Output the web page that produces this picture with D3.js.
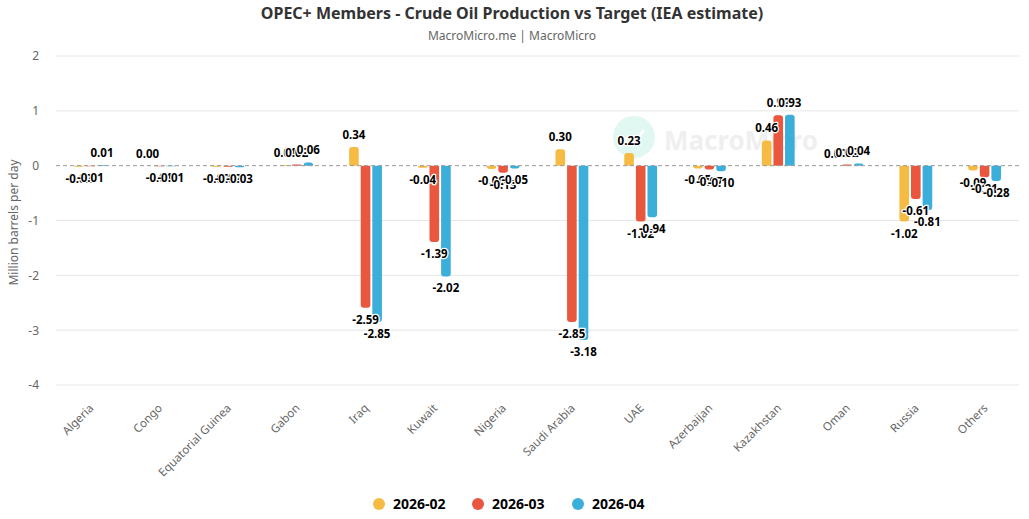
<!DOCTYPE html>
<html>
<head>
<meta charset="utf-8">
<script src="https://cdn.jsdelivr.net/npm/d3@7"></script>
<style>
  body { margin: 0; background: #fff; }
  svg { font-family: "Noto Sans", "Open Sans", sans-serif; }
</style>
</head>
<body>
<svg id="chart" width="1029" height="519"></svg>
<script>
// Chart data
const countries = ['Algeria', 'Congo', 'Equatorial Guinea', 'Gabon', 'Iraq', 'Kuwait', 'Nigeria',
  'Saudi Arabia', 'UAE', 'Azerbaijan', 'Kazakhstan', 'Oman', 'Russia', 'Others'];
const seriesNames = ['2026-02', '2026-03', '2026-04'];
const feb = [-0.02, 0.00, -0.02, 0.01, 0.34, -0.04, -0.06, 0.30, 0.23, -0.05, 0.46, 0.00, -1.02, -0.09];
const mar = [-0.01, -0.01, -0.02, 0.02, -2.59, -1.39, -0.13, -2.85, -1.02, -0.07, 0.92, 0.02, -0.61, -0.21];
const apr = [0.01, -0.01, -0.03, 0.06, -2.85, -2.02, -0.05, -3.18, -0.94, -0.10, 0.93, 0.04, -0.81, -0.28];
const yTicks = [2, 1, 0, -1, -2, -3, -4];
const colors = ['#F6BB43', '#E9573F', '#3BAFDA'];

const svg = d3.select('#chart');
const margin = {left: 56, right: 10, top: 56, bottom: 134};
const W = 1029, H = 519;

const x = d3.scaleBand().domain(countries).range([margin.left, W - margin.right]);
const y = d3.scaleLinear().domain([-4, 2]).range([H - margin.bottom, margin.top]);
const xs = d3.scaleBand().domain(seriesNames).range([0, x.bandwidth()]).paddingInner(0.17).paddingOuter(1.55);

// hyphen minus like the original labels
const fmt = v => d3.format('.2f')(v).replace('\u2212', '-');

// Title
svg.append('text').attr('x', 512).attr('y', 19).attr('text-anchor', 'middle')
  .style('font-size', '16px').style('font-weight', 'bold').attr('fill', '#333')
  .text('OPEC+ Members - Crude Oil Production vs Target (IEA estimate)');
svg.append('text').attr('x', 512).attr('y', 40).attr('text-anchor', 'middle')
  .style('font-size', '12px').attr('fill', '#666')
  .text('MacroMicro.me | MacroMicro');

// Watermark
const wm = svg.append('g').style('opacity', 0.55);
wm.append('circle').attr('cx', 634).attr('cy', 137).attr('r', 21).attr('fill', '#c9f1e8');
wm.append('polyline').attr('points', '620,147 628,137 634,143 644,130')
  .attr('fill', 'none').attr('stroke', '#fff').attr('stroke-width', 2.5);
wm.append('text').attr('x', 664).attr('y', 150).style('font-size', '26px').style('font-weight', 'bold')
  .attr('fill', '#e3e3e3').text('MacroMicro');

// Gridlines
svg.append('g').selectAll('line').data(yTicks.filter(d => d !== 0)).join('line')
  .attr('x1', margin.left).attr('x2', W - margin.right)
  .attr('y1', d => y(d)).attr('y2', d => y(d))
  .attr('stroke', '#e6e6e6').attr('stroke-width', 1);

// Y axis labels
const yAxis = svg.append('g').attr('transform', `translate(${margin.left - 14},0)`)
  .call(d3.axisLeft(y).tickValues(yTicks).tickSize(0).tickFormat(d => fmt(d).replace('.00', '')));
yAxis.select('.domain').remove();
yAxis.selectAll('text').attr('fill', '#666').style('font-size', '12px')
  .style('font-family', '"Noto Sans", sans-serif');

svg.append('text').attr('transform', `translate(18,${(margin.top + H - margin.bottom) / 2 + 2}) rotate(-90)`)
  .attr('text-anchor', 'middle').style('font-size', '12px').attr('fill', '#666')
  .text('Million barrels per day');

// X axis labels
const xAxis = svg.append('g').attr('transform', `translate(0,${H - margin.bottom + 16})`)
  .call(d3.axisBottom(x).tickSize(0));
xAxis.select('.domain').remove();
xAxis.selectAll('text').attr('fill', '#666').style('font-size', '11.5px')
  .style('font-family', '"Noto Sans", sans-serif')
  .attr('text-anchor', 'end').attr('dy', '0.7em')
  .attr('transform', 'translate(-4,0) rotate(-45)');

// Bars
const rows = [];
countries.forEach((c, i) => {
  [feb, mar, apr].forEach((s, j) => rows.push({c: c, s: seriesNames[j], v: s[i], color: colors[j]}));
});

function barPath(d) {
  const x0 = x(d.c) + xs(d.s), w = xs.bandwidth();
  const yb = y(0), ye = y(d.v);
  const h = Math.abs(ye - yb);
  const r = Math.min(3, h, w / 2);
  if (d.v >= 0) {
    return `M${x0},${yb} L${x0},${ye + r} Q${x0},${ye} ${x0 + r},${ye} L${x0 + w - r},${ye} Q${x0 + w},${ye} ${x0 + w},${ye + r} L${x0 + w},${yb} Z`;
  }
  return `M${x0},${yb} L${x0},${ye - r} Q${x0},${ye} ${x0 + r},${ye} L${x0 + w - r},${ye} Q${x0 + w},${ye} ${x0 + w},${ye - r} L${x0 + w},${yb} Z`;
}

svg.append('g').selectAll('path').data(rows).join('path')
  .attr('d', barPath).attr('fill', d => d.color);

// Zero line
svg.append('line').attr('x1', margin.left).attr('x2', W - margin.right)
  .attr('y1', y(0)).attr('y2', y(0))
  .attr('stroke', '#999').attr('stroke-dasharray', '4,3').attr('stroke-width', 1);

// Value labels
svg.append('g').selectAll('text').data(rows).join('text')
  .attr('x', d => x(d.c) + xs(d.s) + xs.bandwidth() / 2)
  .attr('y', d => d.v >= 0 ? y(d.v) - 8 : y(d.v) + 16)
  .attr('text-anchor', 'middle')
  .style('font-size', '11.5px').style('font-weight', 'bold')
  .attr('fill', '#000').attr('stroke', '#fff').attr('stroke-width', 2.5)
  .attr('stroke-linejoin', 'round').attr('paint-order', 'stroke')
  .text(d => fmt(d.v));

// Legend
const legend = svg.append('g');
const legendX = [379, 478, 578];
seriesNames.forEach((n, i) => {
  legend.append('circle').attr('cx', legendX[i]).attr('cy', 504).attr('r', 6).attr('fill', colors[i]);
  legend.append('text').attr('x', legendX[i] + 14).attr('y', 509)
    .style('font-size', '14px').style('font-weight', 'bold').attr('fill', '#000').text(n);
});
</script>
</body>
</html>
